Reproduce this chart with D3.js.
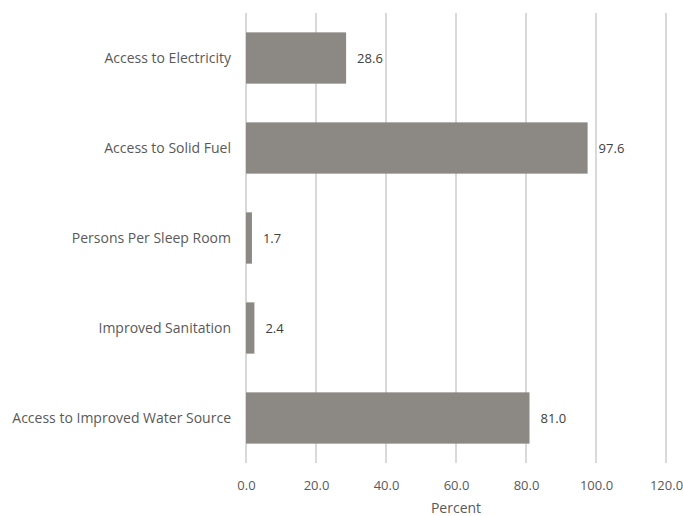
<!DOCTYPE html>
<html><head><meta charset="utf-8">
<script src="https://cdn.jsdelivr.net/npm/d3@7"></script>
<style>body{margin:0;background:#fff}svg{display:block}text{font-family:"Open Sans",Lato,sans-serif}</style>
</head><body><svg id="c" width="683" height="516"></svg>
<script>
const categories = ["Access to Electricity","Access to Solid Fuel","Persons Per Sleep Room","Improved Sanitation","Access to Improved Water Source"];
const values = [28.6, 97.6, 1.7, 2.4, 81.0];
const xTicks = [0,20,40,60,80,100,120];
const xTitle = "Percent";

const svg = d3.select("#c");
const m = {l:246, r:17, t:13, b:53};
const W = 683, H = 516;
const FF = "'Open Sans',Lato,sans-serif";
const x = d3.scaleLinear().domain([0,120]).range([m.l, W-m.r]);
const y = d3.scaleBand().domain(categories).range([m.t, H-m.b]).paddingInner(0.43).paddingOuter(0.215);

svg.append("g").selectAll("line").data(xTicks).join("line")
  .attr("x1",d=>x(d)).attr("x2",d=>x(d)).attr("y1",m.t).attr("y2",H-m.b)
  .attr("stroke","#d9d9d9").attr("stroke-width",2);

svg.append("g").selectAll("rect").data(values).join("rect")
  .attr("x",x(0)).attr("y",(d,i)=>y(categories[i])).attr("width",d=>x(d)-x(0)).attr("height",y.bandwidth())
  .attr("fill","#8c8984");

svg.append("g").selectAll("text").data(values).join("text")
  .attr("x",d=>x(d)+11).attr("y",(d,i)=>y(categories[i])+y.bandwidth()/2).attr("dy","0.35em")
  .attr("font-size",13).attr("fill","#404040").text(d=>d.toFixed(1));

svg.append("g").selectAll("text").data(categories).join("text")
  .attr("x",m.l-15).attr("y",d=>y(d)+y.bandwidth()/2).attr("dy","0.35em").attr("text-anchor","end")
  .attr("font-size",14).attr("fill","#595959").text(d=>d);

const ax = svg.append("g").attr("transform",`translate(0,${H-m.b})`)
  .call(d3.axisBottom(x).tickValues(xTicks).tickFormat(d3.format(".1f")).tickSize(0).tickPadding(18));
ax.select(".domain").remove();
ax.selectAll("text").attr("font-size",13).attr("fill","#595959").attr("font-family",FF);

svg.append("text").attr("x",(x(0)+x(120))/2).attr("y",508).attr("dy","0.35em").attr("text-anchor","middle")
  .attr("font-size",14).attr("fill","#595959").text(xTitle);
</script></body></html>
